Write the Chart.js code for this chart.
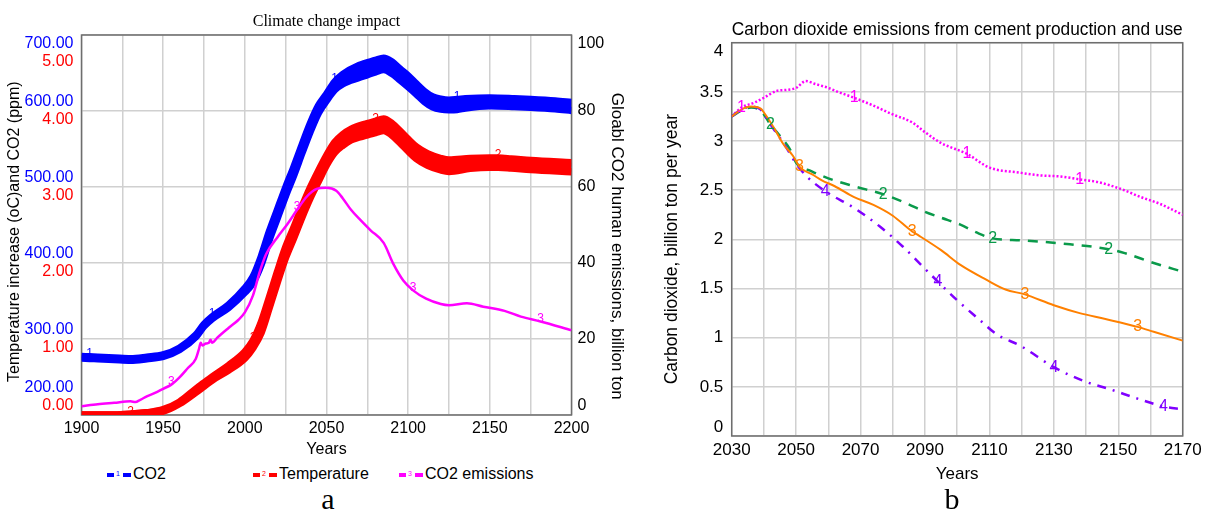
<!DOCTYPE html>
<html>
<head>
<meta charset="utf-8">
<title>Climate change impact / Cement CO2 emissions</title>
<script src="https://cdn.jsdelivr.net/npm/chart.js@4.4.1/dist/chart.umd.min.js"></script>
<style>
  html, body { margin: 0; padding: 0; background: #fff; }
  body { position: relative; width: 1211px; height: 510px; overflow: hidden;
         font-family: "Liberation Sans", Arial, sans-serif; }
  #chartA { position: absolute; left: 0; top: 0; }
  #chartB { position: absolute; left: 640px; top: 0; }
  .leg { position: absolute; top: 465px; height: 18px; line-height: 18px; font-size: 16px;
         color: #000; white-space: nowrap; }
  .sym { display: inline-block; position: relative; width: 26px; height: 18px; vertical-align: top; }
  .sym i { position: absolute; top: 8px; height: 3.5px; }
  .sym b { position: absolute; top: 0; font-size: 7px; font-weight: normal; line-height: 18px; }
  .cap { position: absolute; top: 484px; width: 100px; text-align: center; line-height: 30px;
         font-family: "Liberation Serif", "Times New Roman", serif; font-size: 30px; color: #000; }
</style>
</head>
<body>
<canvas id="chartA" width="653" height="460"></canvas>
<canvas id="chartB" width="571" height="490"></canvas>

<div class="leg" style="left:107px"><span class="sym"><i style="left:0;width:7px;background:#0000ff"></i><b style="left:9px;color:#0000ff">1</b><i style="left:16px;width:8px;background:#0000ff"></i></span>CO2</div>
<div class="leg" style="left:253px"><span class="sym"><i style="left:0;width:7px;background:#ff0000"></i><b style="left:9px;color:#ff0000">2</b><i style="left:16px;width:8px;background:#ff0000"></i></span>Temperature</div>
<div class="leg" style="left:399px"><span class="sym"><i style="left:0;width:7px;background:#ff00ff"></i><b style="left:9px;color:#ff00ff">3</b><i style="left:16px;width:8px;background:#ff00ff"></i></span>CO2 emissions</div>

<div class="cap" style="left:278px">a</div>
<div class="cap" style="left:902px">b</div>

<script>
// ---------- Panel a: climate change impact (1900-2200) ----------
const co2Years  = [1900,1905,1910,1920,1930,1940,1950,1960,1970,1975,1980,1990,2000,2005,2010,2015,2020,2025,2030,2035,2040,2045,2050,2055,2060,2070,2080,2085,2090,2095,2100,2105,2110,2115,2120,2125,2130,2135,2150,2165,2175,2190,2200];
const co2Lower  = [275,274.5,274,273,272,274,277,286,303,317,327,341.5,361.5,374.5,398,431,460,489,516,545,573,597.5,614,628,636,644,651.5,654.5,649.5,641,632,622.5,612.5,605.5,602.5,601.7,602,604,606.8,605.8,604.8,602.8,600.8];
const co2Upper  = [277,276.5,276,275,274,276,279,288,305,319,329,344.5,366.5,381.5,408,441,470,499,526,555,583,606.5,622,638,648,660,666.5,669.5,664.5,655,646,635.5,625.5,618.5,615.5,614.3,615,616,617.2,616.2,615.2,613.2,611.2];

const tempYears = [1900,1910,1920,1930,1940,1950,1960,1970,1975,1980,1990,2000,2005,2010,2015,2020,2025,2030,2035,2040,2045,2050,2055,2060,2065,2075,2080,2085,2090,2095,2100,2105,2112,2120,2125,2138,2150,2155,2163,2175,2200];
const tempLower = [0,0,0,0.01,0.03,0.05,0.15,0.30,0.38,0.46,0.59,0.75,0.885,1.085,1.415,1.755,2.075,2.335,2.605,2.855,3.075,3.29,3.455,3.55,3.62,3.685,3.715,3.745,3.685,3.585,3.475,3.375,3.285,3.225,3.205,3.245,3.26,3.26,3.25,3.23,3.20];
const tempUpper = [0,0,0,0.01,0.03,0.07,0.17,0.34,0.42,0.50,0.65,0.83,0.975,1.215,1.545,1.885,2.205,2.465,2.735,2.985,3.205,3.41,3.585,3.69,3.76,3.835,3.865,3.895,3.835,3.735,3.625,3.525,3.435,3.375,3.355,3.375,3.38,3.38,3.37,3.35,3.32];

const emisYears  = [1900,1910,1920,1930,1933,1936,1940,1945,1950,1955,1960,1965,1970,1972,1973,1974,1976,1978,1979,1980,1983,1990,1996,2000,2005,2009,2013,2020,2026,2032,2038,2044,2050,2056,2060,2065,2071,2077,2085,2091,2097,2103,2111,2120,2125,2136,2146,2159,2169,2181,2200];
const emisValues = [2.3,2.8,3.2,3.6,3.4,4.0,4.9,5.8,6.9,8.0,9.9,12.3,14.8,17.5,19.0,18.3,18.8,19.0,19.8,19.0,20.3,22.9,25.0,27.0,31.5,37.5,42.3,46.8,50.2,54.0,57.5,59.5,59.8,59.0,57.0,54.0,51.2,48.6,45.3,39.7,35.4,32.8,30.6,29.2,28.9,29.4,28.5,27.4,25.9,24.6,22.3];

const co2Marks  = [1905, 1980, 2055, 2130];
const tempMarks = [1930, 2005, 2080, 2155];
const emisMarks = [1955, 2032, 2103, 2181];

const yearLabelsA = [1900, 1950, 2000, 2050, 2100, 2150, 2200];

// ---------- Panel b: CO2 from cement production and use (2030-2170) ----------
const s1Years = [2030,2033,2037,2040,2044,2047,2050,2053,2056,2060,2063,2068,2074,2080,2086,2090,2095,2103,2110,2119,2126,2132,2138,2144,2151,2157,2163,2170];
const s1Vals  = [3.25,3.34,3.39,3.44,3.51,3.52,3.54,3.61,3.58,3.54,3.50,3.44,3.36,3.27,3.19,3.09,2.98,2.87,2.73,2.68,2.65,2.64,2.61,2.58,2.51,2.43,2.36,2.25];
const s2Years = [2030,2033,2036,2039,2042,2045,2048,2050,2055,2060,2068,2077,2084,2090,2095,2101,2106,2111,2120,2135,2147,2152,2161,2170];
const s2Vals  = [3.25,3.31,3.34,3.31,3.17,3.05,2.92,2.78,2.69,2.62,2.54,2.46,2.37,2.28,2.22,2.15,2.07,2.01,1.99,1.95,1.90,1.86,1.76,1.67];
const s3Years = [2030,2033,2036,2039,2040,2043,2046,2049,2051,2052,2055,2058,2062,2068,2074,2080,2086,2088,2095,2101,2109,2115,2121,2130,2138,2146,2156,2161,2170];
const s3Vals  = [3.25,3.32,3.35,3.33,3.29,3.14,2.97,2.85,2.74,2.71,2.66,2.60,2.54,2.43,2.35,2.24,2.08,2.04,1.89,1.74,1.59,1.49,1.44,1.33,1.25,1.19,1.11,1.06,0.97];
const s4Years = [2030,2033,2036,2039,2042,2045,2047,2050,2053,2059,2068,2076,2083,2090,2094,2100,2107,2112,2120,2130,2140,2147,2156,2164,2170];
const s4Vals  = [3.25,3.32,3.35,3.32,3.17,3.03,2.93,2.77,2.65,2.49,2.32,2.13,1.93,1.70,1.57,1.38,1.18,1.04,0.91,0.70,0.55,0.48,0.38,0.30,0.27];

const s1Marks = [2033, 2068, 2103, 2138];
const s2Marks = [2042, 2077, 2111, 2147];
const s3Marks = [2051, 2086, 2121, 2156];
const s4Marks = [2059, 2094, 2130, 2164];

const yearLabelsB = [2030, 2050, 2070, 2090, 2110, 2130, 2150, 2170];

// ---------- helpers ----------
const pts = (xs, ys) => xs.map((x, i) => ({ x: x, y: ys[i] }));
const SANS = '"Liberation Sans", Arial, sans-serif';
const SERIF = '"Liberation Serif", "Times New Roman", serif';
const GRID = '#d0d0d0';
const FRAME = '#6e6e6e';

Chart.defaults.font.family = SANS;
Chart.defaults.color = '#000';

// Plot frame around the chart area
const framePlugin = {
  id: 'plotFrame',
  beforeDatasetsDraw(chart) {
    const { ctx, chartArea: a } = chart;
    ctx.save();
    ctx.strokeStyle = FRAME;
    ctx.lineWidth = 1.5;
    ctx.strokeRect(a.left, a.top, a.right - a.left, a.bottom - a.top);
    ctx.restore();
  }
};

// The temperature axis shares the column of the CO2 axis (its labels sit just under the CO2 ones)
const sharedLeftAxis = {
  id: 'sharedLeftAxis',
  afterLayout(chart) {
    const t = chart.scales.yTemp, c = chart.scales.yCO2;
    if (!t || !c) return;
    t.left = c.left;
    t.right = c.right;
    t.width = c.right - c.left;
  }
};

// Small series numbers written along each curve at chosen years
const seriesNumbers = {
  id: 'seriesNumbers',
  afterDatasetsDraw(chart, args, opts) {
    const ctx = chart.ctx;
    chart.data.datasets.forEach((ds, di) => {
      if (!ds.markYears) return;
      const meta = chart.getDatasetMeta(di);
      ctx.save();
      ctx.font = opts.font;
      ctx.fillStyle = ds.markColor;
      ctx.textAlign = 'center';
      ctx.textBaseline = 'middle';
      ds.markYears.forEach(yr => {
        let best = 0, bd = Infinity;
        ds.data.forEach((p, i) => {
          const d = Math.abs(p.x - yr);
          if (d < bd) { bd = d; best = i; }
        });
        const el = meta.data[best];
        ctx.fillText(ds.markLabel, el.x + (opts.dx || 0), el.y + (opts.dy || 0));
      });
      ctx.restore();
    });
  }
};

// Edge tick labels are nudged inside the plot by padding them with blank lines
function edgeLabel(text, isTop, blanks) {
  const pad = Array(blanks).fill('');
  return isTop ? pad.concat([text]) : [text].concat(pad);
}

// ---------- Chart a ----------
const BLUE = '#0000ff', RED = '#ff0000', MAGENTA = '#ff00ff';
const bandLine = { borderWidth: 7.5, pointRadius: 0, cubicInterpolationMode: 'monotone', borderJoinStyle: 'round' };

new Chart(document.getElementById('chartA'), {
  type: 'line',
  data: {
    datasets: [
      { data: pts(emisYears, emisValues), yAxisID: 'yEm', borderColor: MAGENTA,
        borderWidth: 2.5, pointRadius: 0, cubicInterpolationMode: 'monotone', fill: false, order: 0,
        markYears: emisMarks, markLabel: '3', markColor: MAGENTA },
      Object.assign({}, bandLine, { data: pts(tempYears, tempUpper), yAxisID: 'yTemp', borderColor: RED,
        backgroundColor: RED, fill: '+1', order: 1, markYears: tempMarks, markLabel: '2', markColor: RED }),
      Object.assign({}, bandLine, { data: pts(tempYears, tempLower), yAxisID: 'yTemp', borderColor: RED,
        fill: false, order: 1 }),
      Object.assign({}, bandLine, { data: pts(co2Years, co2Upper), yAxisID: 'yCO2', borderColor: BLUE,
        backgroundColor: BLUE, fill: '+1', order: 2, markYears: co2Marks, markLabel: '1', markColor: BLUE }),
      Object.assign({}, bandLine, { data: pts(co2Years, co2Lower), yAxisID: 'yCO2', borderColor: BLUE,
        fill: false, order: 2 })
    ]
  },
  options: {
    responsive: false,
    animation: false,
    events: [],
    layout: { padding: 0 },
    plugins: {
      legend: { display: false },
      tooltip: { enabled: false },
      title: {
        display: true, fullSize: false, text: 'Climate change impact', color: '#000',
        font: { family: SERIF, size: 16, weight: 'normal' }, padding: { top: 7, bottom: 3.8 }
      },
      seriesNumbers: { font: '12px ' + SANS, dx: 0, dy: -3 }
    },
    scales: {
      x: {
        type: 'linear', position: 'bottom', min: 1900, max: 2200,
        border: { display: false },
        grid: { color: GRID, lineWidth: 1.5, drawTicks: false },
        ticks: { stepSize: 25, autoSkip: false, maxRotation: 0, padding: 3.5, font: { size: 16 },
          callback: v => yearLabelsA.includes(v) ? String(v) : '' },
        title: { display: true, text: 'Years', font: { size: 16 }, padding: { top: 0, bottom: 0.4 } },
        afterFit: s => { s.height = 45; }
      },
      yTemp: {
        type: 'linear', position: 'left', min: 0, max: 5,
        border: { display: false },
        grid: { display: false, drawTicks: false },
        ticks: { stepSize: 1, padding: 8, color: RED, labelOffset: 9,
          font: { size: 16, lineHeight: 1.125 },
          callback: v => v === 5 ? edgeLabel(v.toFixed(2), true, 2)
                        : v === 0 ? edgeLabel(v.toFixed(2), false, 2) : v.toFixed(2) },
        afterFit: s => { s.width = 0; }
      },
      yCO2: {
        type: 'linear', position: 'left', min: 200, max: 700,
        border: { display: false },
        grid: { color: GRID, lineWidth: 1.5, drawTicks: false },
        ticks: { stepSize: 100, padding: 8, color: BLUE, labelOffset: -9,
          font: { size: 16, lineHeight: 1.125 },
          callback: v => v === 700 ? edgeLabel(v.toFixed(2), true, 2)
                        : v === 200 ? edgeLabel(v.toFixed(2), false, 2) : v.toFixed(2) },
        title: { display: true, text: 'Temperature increase (oC)and CO2 (ppm)   ', font: { size: 16 },
          padding: { top: 5.4, bottom: 0 } },
        afterFit: s => { s.width = 81.5; }
      },
      yEm: {
        type: 'linear', position: 'right', min: 0, max: 100,
        border: { display: false },
        grid: { display: false, drawTicks: false },
        ticks: { stepSize: 20, padding: 6, color: '#000', font: { size: 16, lineHeight: 1.125 },
          callback: v => v === 100 ? edgeLabel('100', true, 1)
                        : v === 0 ? edgeLabel('0', false, 1) : String(v) },
        title: { display: true, text: '         Gloabl CO2 human emissions, billion ton', font: { size: 17 },
          padding: { top: 25.9, bottom: 0 } },
        afterFit: s => { s.width = 81.5; }
      }
    }
  },
  plugins: [sharedLeftAxis, framePlugin, seriesNumbers]
});

// ---------- Chart b ----------
const PINK = '#ff00ff', GREEN = '#0a9a4a', ORANGE = '#ff8000', VIOLET = '#8000ff';
const thin = { pointRadius: 0, fill: false, cubicInterpolationMode: 'monotone', borderJoinStyle: 'round' };

new Chart(document.getElementById('chartB'), {
  type: 'line',
  data: {
    datasets: [
      Object.assign({}, thin, { data: pts(s3Years, s3Vals), borderColor: ORANGE, borderWidth: 2,
        order: 0, markYears: s3Marks, markLabel: '3', markColor: ORANGE }),
      Object.assign({}, thin, { data: pts(s4Years, s4Vals), borderColor: VIOLET, borderWidth: 2.5,
        borderDash: [9, 7, 2, 7], order: 1, markYears: s4Marks, markLabel: '4', markColor: VIOLET }),
      Object.assign({}, thin, { data: pts(s2Years, s2Vals), borderColor: GREEN, borderWidth: 2.5,
        borderDash: [10, 8], order: 2, markYears: s2Marks, markLabel: '2', markColor: GREEN }),
      Object.assign({}, thin, { data: pts(s1Years, s1Vals), borderColor: PINK, borderWidth: 2.5,
        borderDash: [2, 2], order: 3, markYears: s1Marks, markLabel: '1', markColor: PINK })
    ]
  },
  options: {
    responsive: false,
    animation: false,
    events: [],
    layout: { padding: { left: 0, right: 28.3, top: 0, bottom: 0 } },
    plugins: {
      legend: { display: false },
      tooltip: { enabled: false },
      title: {
        display: true, fullSize: false, color: '#000',
        text: 'Carbon dioxide emissions from cement production and use',
        font: { size: 17.5, weight: 'normal' }, padding: { top: 19.7, bottom: 2 }
      },
      seriesNumbers: { font: '16px ' + SANS, dx: 0, dy: 0 }
    },
    scales: {
      x: {
        type: 'linear', position: 'bottom', min: 2030, max: 2170,
        border: { display: false },
        grid: { color: GRID, lineWidth: 1.5, drawTicks: false },
        ticks: { stepSize: 10, autoSkip: false, maxRotation: 0, padding: 4, font: { size: 17 },
          callback: v => yearLabelsB.includes(v) ? String(v) : '' },
        title: { display: true, text: 'Years', font: { size: 17 }, padding: { top: 0, bottom: 5.8 } },
        afterFit: s => { s.height = 54; }
      },
      y: {
        type: 'linear', position: 'left', min: 0, max: 4,
        border: { display: false },
        grid: { color: GRID, lineWidth: 1.5, drawTicks: false },
        ticks: { stepSize: 0.5, padding: 8.4, font: { size: 17, lineHeight: 18 / 17 },
          callback: v => v === 4 ? edgeLabel('4', true, 1)
                        : v === 0 ? edgeLabel('0', false, 1) : String(v) },
        title: { display: true, text: 'Carbon dioxide, billion ton per year    ', font: { size: 17.5 },
          padding: { top: 21.5, bottom: 0 } },
        afterFit: s => { s.width = 91.7; }
      }
    }
  },
  plugins: [framePlugin, seriesNumbers]
});
</script>
</body>
</html>
